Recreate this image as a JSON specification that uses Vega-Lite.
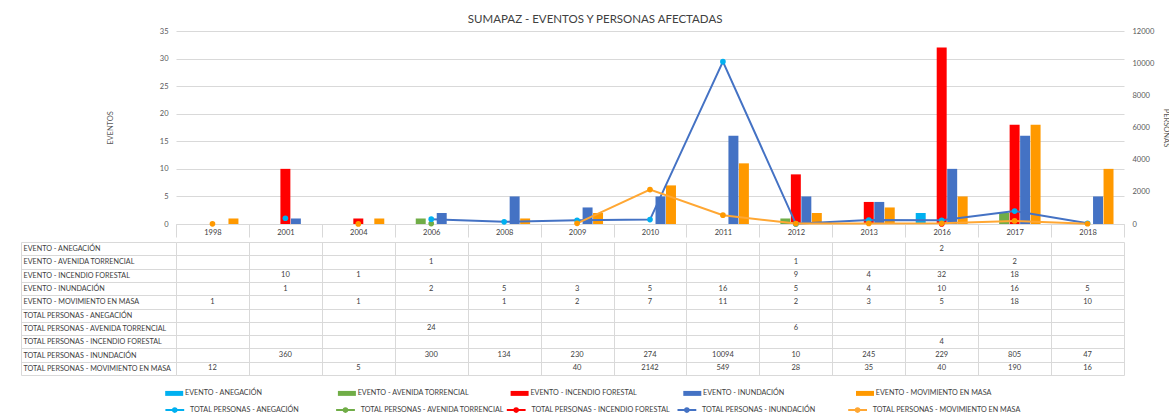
{
  "$schema": "https://vega.github.io/schema/vega-lite/v6.json",
  "padding": {"left": 20, "top": 13, "right": 4, "bottom": 0},
  "background": "white",
  "title": {"text": "SUMAPAZ - EVENTOS Y PERSONAS AFECTADAS", "fontSize": 11.5, "fontWeight": "normal", "color": "#404040", "anchor": "middle", "offset": 2},
  "datasets": {
    "t": [
      {"anio": "1998", "EVENTO - MOVIMIENTO EN MASA": 1, "TOTAL PERSONAS - MOVIMIENTO EN MASA": 12},
      {"anio": "2001", "EVENTO - INCENDIO FORESTAL": 10, "EVENTO - INUNDACIÓN": 1, "TOTAL PERSONAS - INUNDACIÓN": 360},
      {"anio": "2004", "EVENTO - INCENDIO FORESTAL": 1, "EVENTO - MOVIMIENTO EN MASA": 1, "TOTAL PERSONAS - MOVIMIENTO EN MASA": 5},
      {"anio": "2006", "EVENTO - AVENIDA TORRENCIAL": 1, "EVENTO - INUNDACIÓN": 2, "TOTAL PERSONAS - AVENIDA TORRENCIAL": 24, "TOTAL PERSONAS - INUNDACIÓN": 300},
      {"anio": "2008", "EVENTO - INUNDACIÓN": 5, "EVENTO - MOVIMIENTO EN MASA": 1, "TOTAL PERSONAS - INUNDACIÓN": 134},
      {"anio": "2009", "EVENTO - INUNDACIÓN": 3, "EVENTO - MOVIMIENTO EN MASA": 2, "TOTAL PERSONAS - INUNDACIÓN": 230, "TOTAL PERSONAS - MOVIMIENTO EN MASA": 40},
      {"anio": "2010", "EVENTO - INUNDACIÓN": 5, "EVENTO - MOVIMIENTO EN MASA": 7, "TOTAL PERSONAS - INUNDACIÓN": 274, "TOTAL PERSONAS - MOVIMIENTO EN MASA": 2142},
      {"anio": "2011", "EVENTO - INUNDACIÓN": 16, "EVENTO - MOVIMIENTO EN MASA": 11, "TOTAL PERSONAS - INUNDACIÓN": 10094, "TOTAL PERSONAS - MOVIMIENTO EN MASA": 549},
      {"anio": "2012", "EVENTO - AVENIDA TORRENCIAL": 1, "EVENTO - INCENDIO FORESTAL": 9, "EVENTO - INUNDACIÓN": 5, "EVENTO - MOVIMIENTO EN MASA": 2, "TOTAL PERSONAS - AVENIDA TORRENCIAL": 6, "TOTAL PERSONAS - INUNDACIÓN": 10, "TOTAL PERSONAS - MOVIMIENTO EN MASA": 28},
      {"anio": "2013", "EVENTO - INCENDIO FORESTAL": 4, "EVENTO - INUNDACIÓN": 4, "EVENTO - MOVIMIENTO EN MASA": 3, "TOTAL PERSONAS - INUNDACIÓN": 245, "TOTAL PERSONAS - MOVIMIENTO EN MASA": 35},
      {"anio": "2016", "EVENTO - ANEGACIÓN": 2, "EVENTO - INCENDIO FORESTAL": 32, "EVENTO - INUNDACIÓN": 10, "EVENTO - MOVIMIENTO EN MASA": 5, "TOTAL PERSONAS - INCENDIO FORESTAL": 4, "TOTAL PERSONAS - INUNDACIÓN": 229, "TOTAL PERSONAS - MOVIMIENTO EN MASA": 40},
      {"anio": "2017", "EVENTO - AVENIDA TORRENCIAL": 2, "EVENTO - INCENDIO FORESTAL": 18, "EVENTO - INUNDACIÓN": 16, "EVENTO - MOVIMIENTO EN MASA": 18, "TOTAL PERSONAS - INUNDACIÓN": 805, "TOTAL PERSONAS - MOVIMIENTO EN MASA": 190},
      {"anio": "2018", "EVENTO - INUNDACIÓN": 5, "EVENTO - MOVIMIENTO EN MASA": 10, "TOTAL PERSONAS - INUNDACIÓN": 47, "TOTAL PERSONAS - MOVIMIENTO EN MASA": 16}
    ]
  },
  "data": {"name": "t"},
  "spacing": 0,
  "resolve": {"scale": {"x": "independent", "y": "independent"}},
  "vconcat": [
    {
      "width": 948,
      "height": 193,
      "encoding": {
        "x": {"field": "anio", "type": "nominal",
          "scale": {"domain": ["1998","2001","2004","2006","2008","2009","2010","2011","2012","2013","2016","2017","2018"], "paddingInner": 0, "paddingOuter": 0},
          "axis": {"title": null, "labelAngle": 0, "tickBand": "extent", "tickSize": 13, "tickColor": "#D9D9D9", "domainColor": "#D9D9D9", "labelPadding": -5, "labelBaseline": "middle", "labelColor": "#404040"}}
      },
      "layer": [
        {
          "transform": [
            {"fold": ["EVENTO - ANEGACIÓN", "EVENTO - AVENIDA TORRENCIAL", "EVENTO - INCENDIO FORESTAL", "EVENTO - INUNDACIÓN", "EVENTO - MOVIMIENTO EN MASA"], "as": ["fila", "v"]},
            {"filter": "isValid(datum.v)"}
          ],
          "mark": {"type": "bar"},
          "encoding": {
            "xOffset": {"field": "fila", "type": "nominal", "scale": {"domain": ["EVENTO - ANEGACIÓN", "EVENTO - AVENIDA TORRENCIAL", "EVENTO - INCENDIO FORESTAL", "EVENTO - INUNDACIÓN", "EVENTO - MOVIMIENTO EN MASA"], "paddingOuter": 1.15, "paddingInner": 0.05}},
            "y": {"field": "v", "type": "quantitative", "scale": {"domain": [0, 35]},
              "axis": {"values": [0,5,10,15,20,25,30,35], "title": "EVENTOS", "titlePadding": 45, "domain": false, "ticks": false, "grid": true, "gridColor": "#D9D9D9", "labelPadding": 8}},
            "fill": {"field": "fila", "type": "nominal",
              "scale": {"domain": ["EVENTO - ANEGACIÓN", "EVENTO - AVENIDA TORRENCIAL", "EVENTO - INCENDIO FORESTAL", "EVENTO - INUNDACIÓN", "EVENTO - MOVIMIENTO EN MASA"], "range": ["#00B0F0", "#70AD47", "#FF0000", "#4472C4", "#FF9900"]},
              "legend": {"orient": "bottom", "offset": 9, "title": null, "direction": "horizontal", "columns": 5, "gridAlign": "all", "symbolType": "M-2.35,-0.31H-0.1V0.31H-2.35Z", "symbolSize": 256, "symbolStrokeWidth": 0, "columnPadding": 36.7, "labelOffset": -7}}
          }
        },
        {
          "transform": [
            {"fold": ["TOTAL PERSONAS - ANEGACIÓN", "TOTAL PERSONAS - AVENIDA TORRENCIAL", "TOTAL PERSONAS - INCENDIO FORESTAL", "TOTAL PERSONAS - INUNDACIÓN", "TOTAL PERSONAS - MOVIMIENTO EN MASA"], "as": ["fila", "v"]}
          ],
          "layer": [
            {
              "mark": {"type": "line", "strokeWidth": 2, "invalid": "break-paths-show-domains"},
              "encoding": {
                "y": {"field": "v", "type": "quantitative", "scale": {"domain": [0, 12000]},
                  "axis": {"orient": "right", "values": [0,2000,4000,6000,8000,10000,12000], "format": "d", "title": "PERSONAS", "titlePadding": 8, "domain": false, "ticks": false, "grid": false, "labelPadding": 8}},
                "stroke": {"field": "fila", "type": "nominal",
                  "scale": {"domain": ["TOTAL PERSONAS - ANEGACIÓN", "TOTAL PERSONAS - AVENIDA TORRENCIAL", "TOTAL PERSONAS - INCENDIO FORESTAL", "TOTAL PERSONAS - INUNDACIÓN", "TOTAL PERSONAS - MOVIMIENTO EN MASA"], "range": ["#00B0F0", "#70AD47", "#FF0000", "#4472C4", "#FFA733"]},
                  "legend": {"orient": "bottom", "offset": 9, "title": null, "direction": "horizontal", "columns": 5, "gridAlign": "all", "symbolType": "M-2.45,0H-0.1M-1.5,0A0.22,0.22,0,1,1,-1.06,0A0.22,0.22,0,1,1,-1.5,0", "symbolSize": 256, "symbolStrokeWidth": 2, "columnPadding": -6.3, "labelOffset": -4}}
              }
            },
            {
              "transform": [{"filter": "isValid(datum.v)"}],
              "mark": {"type": "point", "filled": true, "size": 32, "opacity": 1},
              "encoding": {
                "y": {"field": "v", "type": "quantitative", "scale": {"domain": [0, 12000]},
                  "axis": {"orient": "right", "values": [0,2000,4000,6000,8000,10000,12000], "format": "d", "title": "PERSONAS", "titlePadding": 8, "domain": false, "ticks": false, "grid": false, "labelPadding": 8}},
                "color": {"field": "fila", "type": "nominal",
                  "scale": {"domain": ["TOTAL PERSONAS - ANEGACIÓN", "TOTAL PERSONAS - AVENIDA TORRENCIAL", "TOTAL PERSONAS - INCENDIO FORESTAL", "TOTAL PERSONAS - INUNDACIÓN", "TOTAL PERSONAS - MOVIMIENTO EN MASA"], "range": ["#00B0F0", "#70AD47", "#FF0000", "#00B0F0", "#FF9900"]},
                  "legend": null}
              }
            }
          ]
        }
      ],
      "resolve": {"scale": {"y": "independent"}}
    },
    {
      "width": 948,
      "height": 133,
      "transform": [
        {"fold": ["EVENTO - ANEGACIÓN", "EVENTO - AVENIDA TORRENCIAL", "EVENTO - INCENDIO FORESTAL", "EVENTO - INUNDACIÓN", "EVENTO - MOVIMIENTO EN MASA", "TOTAL PERSONAS - ANEGACIÓN", "TOTAL PERSONAS - AVENIDA TORRENCIAL", "TOTAL PERSONAS - INCENDIO FORESTAL", "TOTAL PERSONAS - INUNDACIÓN", "TOTAL PERSONAS - MOVIMIENTO EN MASA"], "as": ["fila", "v"]},
        {"filter": "isValid(datum.v)"}
      ],
      "mark": {"type": "text", "fontSize": 7.5, "color": "#404040"},
      "encoding": {
        "x": {"field": "anio", "type": "nominal",
          "scale": {"domain": ["1998","2001","2004","2006","2008","2009","2010","2011","2012","2013","2016","2017","2018"], "paddingInner": 0, "paddingOuter": 0},
          "axis": {"orient": "top", "title": null, "labels": false, "ticks": false, "domain": false, "grid": true, "gridColor": "#D9D9D9", "tickBand": "extent"}},
        "y": {"field": "fila", "type": "nominal",
          "scale": {"domain": ["EVENTO - ANEGACIÓN", "EVENTO - AVENIDA TORRENCIAL", "EVENTO - INCENDIO FORESTAL", "EVENTO - INUNDACIÓN", "EVENTO - MOVIMIENTO EN MASA", "TOTAL PERSONAS - ANEGACIÓN", "TOTAL PERSONAS - AVENIDA TORRENCIAL", "TOTAL PERSONAS - INCENDIO FORESTAL", "TOTAL PERSONAS - INUNDACIÓN", "TOTAL PERSONAS - MOVIMIENTO EN MASA"], "paddingInner": 0, "paddingOuter": 0},
          "axis": {"title": null, "offset": 155, "tickSize": -155, "tickBand": "extent", "tickColor": "#D9D9D9", "domainColor": "#D9D9D9", "grid": true, "gridColor": "#D9D9D9", "labelAlign": "left", "labelPadding": 153, "labelFontSize": 7.2, "labelColor": "#404040", "labelLimit": 0}},
        "text": {"field": "v", "type": "quantitative", "format": "d"}
      }
    }
  ],
  "config": {
    "font": "Lato",
    "view": {"stroke": null},
    "text": {"font": "Lato"},
    "axis": {"labelFontSize": 7.5, "labelColor": "#595959", "titleFontSize": 7.5, "titleFontWeight": "normal", "titleColor": "#595959", "labelFont": "Lato", "titleFont": "Lato"},
    "legend": {"labelFontSize": 7.2, "labelColor": "#404040", "labelFont": "Lato", "layout": {"bottom": {"anchor": "start", "direction": "vertical", "margin": 4}}},
    "title": {"font": "Lato"}
  }
}
